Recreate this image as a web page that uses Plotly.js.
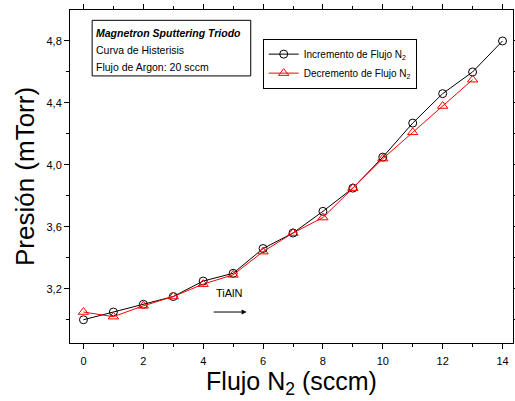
<!DOCTYPE html>
<html><head><meta charset="utf-8">
<script src="https://cdn.plot.ly/plotly-3.0.1.min.js"></script>
<style>body{margin:0;padding:0;background:#fff}#c{width:515px;height:401px}</style>
</head><body><div id="c"></div>
<script>
var flujo = [0,1,2,3,4,5,6,7,8,9,10,11,12,13,14];
var incremento = [3.00,3.05,3.10,3.15,3.25,3.30,3.46,3.56,3.70,3.85,4.05,4.27,4.46,4.60,4.80];
var flujoDec = [0,1,2,3,4,5,6,7,8,9,10,11,12,13];
var decremento = [3.05,3.02,3.09,3.15,3.23,3.29,3.44,3.56,3.66,3.85,4.04,4.21,4.38,4.55];
var xTicks = [0,2,4,6,8,10,12,14];
var yTicks = [3.2,3.6,4.0,4.4,4.8];

var font = 'Liberation Sans, Arial, sans-serif';
var traces = [
  {x: flujo, y: incremento, mode: 'lines+markers', name: 'Incremento de Flujo N<sub>2</sub>',
   line: {color: '#000', width: 1}, marker: {symbol: 'circle-open', size: 8, color: '#000', line: {width: 1}}},
  {x: flujoDec, y: decremento, mode: 'lines+markers', name: 'Decremento de Flujo N<sub>2</sub>',
   line: {color: '#ff0000', width: 1}, marker: {symbol: 'triangle-up-open', size: 9, color: '#ff0000', line: {width: 1}}}
];
var layout = {
  width: 515, height: 401,
  margin: {l: 70, r: 2, t: 10, b: 58},
  paper_bgcolor: '#fff', plot_bgcolor: '#fff',
  separators: ',.',
  font: {family: font, color: '#000', size: 11},
  showlegend: true,
  legend: {x: 0.435, y: 0.914, xanchor: 'left', yanchor: 'top', bordercolor: '#000', borderwidth: 1,
    bgcolor: '#fff', font: {size: 10, family: font}, itemwidth: 30, tracegroupgap: 0},
  xaxis: {range: [-0.45, 14.35], tickvals: xTicks, ticks: 'outside', ticklen: 5, tickcolor: '#000',
    showline: true, linecolor: '#000', linewidth: 1, mirror: 'allticks', showgrid: false, zeroline: false,
    minor: {dtick: 1, ticks: 'outside', ticklen: 3, tickcolor: '#000'},
    ticklabelstandoff: 3,
    tickfont: {size: 11}, title: {text: 'Flujo N<sub>2</sub> (sccm)', font: {size: 25}, standoff: 2}},
  yaxis: {range: [2.85, 5.0], tickvals: yTicks, tickformat: '.1f', ticks: 'outside', ticklen: 5, tickcolor: '#000',
    showline: true, linecolor: '#000', linewidth: 1, mirror: 'allticks', showgrid: false, zeroline: false,
    minor: {tickvals: [3.0,3.4,3.8,4.2,4.6], ticks: 'outside', ticklen: 3, tickcolor: '#000'},
    tickfont: {size: 11}, title: {text: 'Presión (mTorr)', font: {size: 26}, standoff: 4}},
  shapes: [
    {type: 'rect', xref: 'paper', yref: 'paper', x0: 0.05, x1: 0.408, y0: 0.802, y1: 0.969,
     line: {color: '#000', width: 1}, fillcolor: 'rgba(0,0,0,0)'}
  ],
  annotations: [
    {xref: 'paper', yref: 'paper', x: 0.054, y: 0.932, xanchor: 'left', yanchor: 'middle', showarrow: false,
     text: '<b><i>Magnetron Sputtering Triodo</i></b>', font: {size: 10.5}},
    {xref: 'paper', yref: 'paper', x: 0.054, y: 0.88, xanchor: 'left', yanchor: 'middle', showarrow: false,
     text: 'Curva de Histerisis', font: {size: 10.5}},
    {xref: 'paper', yref: 'paper', x: 0.054, y: 0.828, xanchor: 'left', yanchor: 'middle', showarrow: false,
     text: 'Flujo de Argon: 20 sccm', font: {size: 10.5}},
    {xref: 'x', yref: 'y', x: 4.88, y: 3.17, showarrow: false, text: 'TiAlN', font: {size: 11}},
    {xref: 'x', yref: 'y', x: 5.45, y: 3.05, ax: 4.3, ay: 3.05, axref: 'x', ayref: 'y',
     showarrow: true, arrowhead: 2, arrowsize: 1, arrowwidth: 1, arrowcolor: '#000', text: ''}
  ]
};
Plotly.newPlot('c', traces, layout, {displayModeBar: false, staticPlot: true});
</script></body></html>
